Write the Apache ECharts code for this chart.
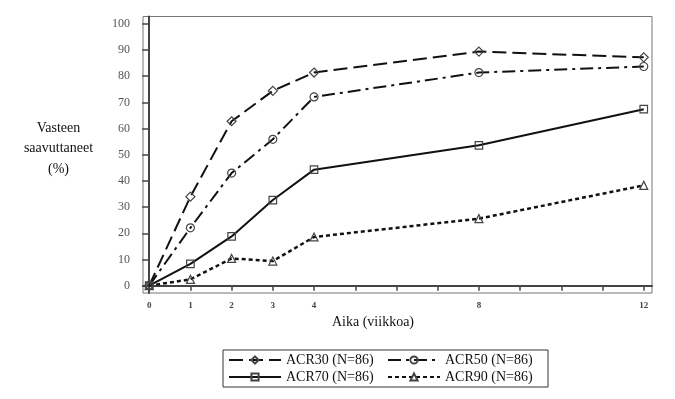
<!DOCTYPE html>
<html>
<head>
<meta charset="utf-8">
<script src="https://cdn.jsdelivr.net/npm/echarts@6/dist/echarts.min.js"></script>
<style>html,body{margin:0;padding:0;background:#fff}#c{width:675px;height:399px}</style>
</head>
<body>
<div id="c"></div>
<script>
var weeks = [0, 1, 2, 3, 4, 8, 12];
var acr30 = [0, 34.0, 62.8, 74.4, 81.4, 89.4, 87.2];
var acr50 = [0, 22.1, 43.0, 55.9, 72.1, 81.4, 83.7];
var acr70 = [0, 8.3, 18.8, 32.7, 44.3, 53.6, 67.4];
var acr90 = [0, 2.4, 10.4, 9.4, 18.6, 25.6, 38.3];
var seriesNames = ['ACR30 (N=86)', 'ACR50 (N=86)', 'ACR70 (N=86)', 'ACR90 (N=86)'];
var xTickValues = [0, 1, 2, 3, 4, 5, 6, 7, 8, 9, 10, 11, 12];
var xLabelValues = [0, 1, 2, 3, 4, 8, 12];
var yTickValues = [0, 10, 20, 30, 40, 50, 60, 70, 80, 90, 100];
var yTitle = 'Vasteen\nsaavuttaneet\n(%)';
var xTitle = 'Aika (viikkoa)';

function pairs(v) { return weeks.map(function (w, i) { return [w, v[i]]; }); }

var serif = '"Liberation Serif", "DejaVu Serif", serif';
var chart = echarts.init(document.getElementById('c'), null, {renderer: 'canvas'});

function mk(name, vals, symbol, size, dash, width) {
  return {
    name: name, type: 'line', data: pairs(vals),
    symbol: symbol, symbolSize: size, showSymbol: true,
    lineStyle: {color: '#111', width: width, type: dash},
    itemStyle: {color: 'rgba(255,255,255,0)', borderColor: '#444', borderWidth: 1.2},
    emphasis: {disabled: true}, animation: false, z: 3
  };
}

chart.setOption({
  backgroundColor: '#fff',
  animation: false,
  grid: {left: 143, right: 23, top: 16.5, bottom: 106, show: true, borderColor: '#777', borderWidth: 1, backgroundColor: 'transparent'},
  xAxis: {
    type: 'value', min: -0.15, max: 12.2,
    axisLine: {show: true, lineStyle: {color: '#444', width: 2}},
    axisTick: {show: true, length: 5, lineStyle: {color: '#444', width: 1.5}, customValues: xTickValues},
    axisLabel: {customValues: xLabelValues, fontFamily: serif, fontSize: 9, fontWeight: 'bold', color: '#444', margin: 8},
    splitLine: {show: false}
  },
  yAxis: {
    type: 'value', min: -2.8, max: 102.8,
    axisLine: {show: true, lineStyle: {color: '#444', width: 2}},
    axisTick: {show: true, length: 7, lineStyle: {color: '#444', width: 1.5}, customValues: yTickValues},
    axisLabel: {customValues: yTickValues, fontFamily: serif, fontSize: 12, color: '#555', margin: 13},
    splitLine: {show: false}
  },
  legend: {
    data: seriesNames,
    left: 223, top: 350, width: 316,
    orient: 'horizontal',
    padding: [3, 5],
    itemGap: 3,
    itemWidth: 52, itemHeight: 9,
    borderColor: '#333', borderWidth: 1,
    textStyle: {fontFamily: serif, fontSize: 14, color: '#111', width: 98, lineHeight: 14},
    selectedMode: false
  },
  graphic: [
    {type: 'text', x: 58.5, y: 148.5, style: {text: yTitle, textAlign: 'center', textVerticalAlign: 'middle', font: '14px ' + serif, fill: '#111', lineHeight: 20.5}},
    {type: 'text', x: 373, y: 322, style: {text: xTitle, textAlign: 'center', textVerticalAlign: 'middle', font: '14px ' + serif, fill: '#111'}}
  ],
  series: [
    mk(seriesNames[0], acr30, 'diamond', 9, [14, 6], 2),
    mk(seriesNames[1], acr50, 'circle', 8, [13, 5, 3, 5], 2),
    mk(seriesNames[2], acr70, 'rect', 7.5, 'solid', 2),
    mk(seriesNames[3], acr90, 'triangle', 8, [4, 3], 2.5)
  ]
});
</script>
</body>
</html>
